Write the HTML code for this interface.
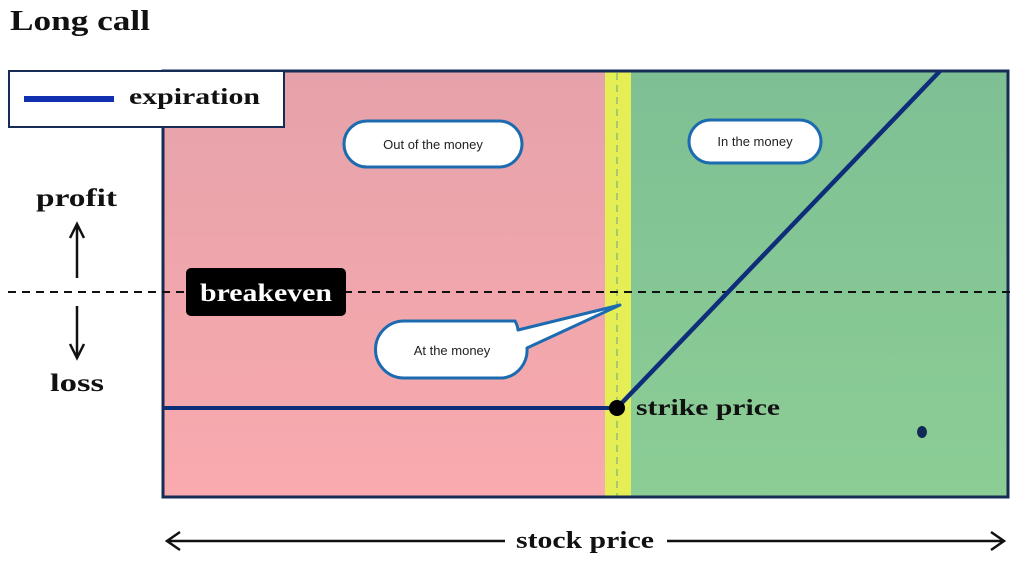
<!DOCTYPE html>
<html><head><meta charset="utf-8"><style>
html,body{margin:0;padding:0;background:#fff;width:1024px;height:564px;overflow:hidden}
svg{display:block}
.s{font-family:"Liberation Serif",serif;font-weight:bold;fill:#111}
.a{font-family:"Liberation Sans",sans-serif;fill:#222;font-size:13px}
</style></head><body>
<svg width="1024" height="564" viewBox="0 0 1024 564">
<defs>
<linearGradient id="pk" x1="0" y1="0" x2="0" y2="1"><stop offset="0" stop-color="#e6a2aa"/><stop offset="1" stop-color="#f9aaae"/></linearGradient>
<linearGradient id="gr" x1="0" y1="0" x2="0" y2="1"><stop offset="0" stop-color="#7ec094"/><stop offset="1" stop-color="#8ccd95"/></linearGradient>
</defs>
<text x="10" y="30" class="s" font-size="28" textLength="140" lengthAdjust="spacingAndGlyphs">Long call</text>
<rect x="163" y="71" width="443" height="426" fill="url(#pk)"/>
<rect x="605" y="71" width="26" height="426" fill="#e6ee55"/>
<rect x="631" y="71" width="377" height="426" fill="url(#gr)"/>
<line x1="617" y1="73" x2="617" y2="497" stroke="#a8c86a" stroke-width="2" stroke-dasharray="7,5"/>
<rect x="163" y="71" width="845" height="426" fill="none" stroke="#172c55" stroke-width="3"/>
<line x1="8" y1="292" x2="1010" y2="292" stroke="#111" stroke-width="2" stroke-dasharray="8,6"/>
<line x1="163" y1="408" x2="617" y2="408" stroke="#0e2e7a" stroke-width="4"/>
<line x1="617" y1="408" x2="940" y2="71" stroke="#0e2e7a" stroke-width="4.5"/>
<circle cx="617" cy="408" r="8" fill="#000"/>
<ellipse cx="922" cy="432" rx="5" ry="6" fill="#0f2a55"/>
<text x="636" y="415" class="s" font-size="23" textLength="144" lengthAdjust="spacingAndGlyphs">strike price</text>
<rect x="9" y="71" width="275" height="56" fill="#fff" stroke="#172c55" stroke-width="2"/>
<line x1="24" y1="99" x2="114" y2="99" stroke="#1030b0" stroke-width="6"/>
<text x="129" y="104" class="s" font-size="23" textLength="131" lengthAdjust="spacingAndGlyphs">expiration</text>
<text x="36" y="206" class="s" font-size="25" textLength="81" lengthAdjust="spacingAndGlyphs">profit</text>
<text x="50" y="391" class="s" font-size="25" textLength="54" lengthAdjust="spacingAndGlyphs">loss</text>
<g stroke="#111" stroke-width="2.5" fill="none">
<line x1="77" y1="225" x2="77" y2="278"/><polyline points="70,238 77,224 84,238"/>
<line x1="77" y1="306" x2="77" y2="358"/><polyline points="70,344 77,358 84,344"/>
<line x1="167" y1="541" x2="505" y2="541"/><line x1="667" y1="541" x2="1004" y2="541"/>
<polyline points="180,532 167,541 180,550"/><polyline points="991,532 1004,541 991,550"/>
</g>
<text x="516" y="548" class="s" font-size="24" textLength="138" lengthAdjust="spacingAndGlyphs">stock price</text>
<rect x="186" y="268" width="160" height="48" rx="5" fill="#000"/>
<text x="200" y="301" font-family="Liberation Serif,serif" font-weight="bold" font-size="25" fill="#fff" textLength="132" lengthAdjust="spacingAndGlyphs">breakeven</text>
<rect x="344" y="121" width="178" height="46" rx="23" fill="#fff" stroke="#1c6bb0" stroke-width="3"/>
<text x="433" y="149" class="a" text-anchor="middle">Out of the money</text>
<rect x="689" y="120" width="132" height="43" rx="21.5" fill="#fff" stroke="#1c6bb0" stroke-width="3"/>
<text x="755" y="146" class="a" text-anchor="middle">In the money</text>
<path d="M404,321 H515 A22,22 0 0 1 518,330 L620,305 L527,348 A28,28 0 0 1 503,378 H404 A28.5,28.5 0 0 1 404,321 Z" fill="#fff" stroke="#1c6bb0" stroke-width="3" stroke-linejoin="round"/>
<text x="452" y="355" class="a" text-anchor="middle">At the money</text>
</svg>
</body></html>
